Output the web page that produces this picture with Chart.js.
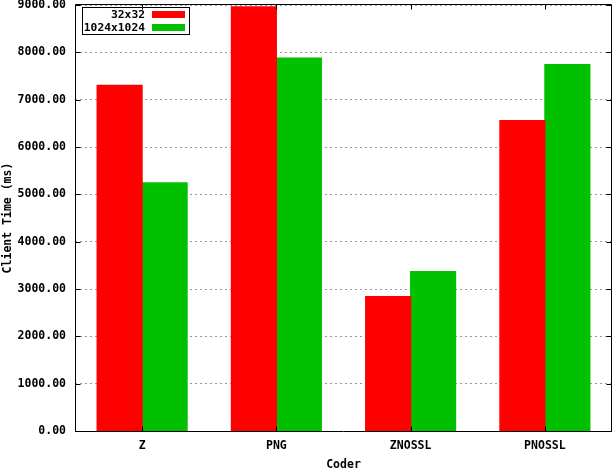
<!DOCTYPE html>
<html>
<head>
<meta charset="utf-8">
<script src="https://cdn.jsdelivr.net/npm/chart.js@4/dist/chart.umd.min.js"></script>
<style>
  html, body { margin: 0; padding: 0; background: #ffffff; }
  #wrap { width: 613px; height: 468px; position: relative; }
</style>
</head>
<body>
<div id="wrap"><canvas id="c"></canvas></div>
<script>
const categories = ["Z", "PNG", "ZNOSSL", "PNOSSL"];
const series32 = [7300, 8960, 2840, 6560];
const series1024 = [5240, 7880, 3370, 7740];
const seriesLabels = ["32x32", "1024x1024"];
const seriesColors = ["#ff0000", "#00c000"];
const yTicks = [0, 1000, 2000, 3000, 4000, 5000, 6000, 7000, 8000, 9000];
const xTitle = "Coder";
const yTitle = "Client Time (ms)";

const FONT = "'DejaVu Sans Mono', 'Liberation Mono', monospace";

const framePlugin = {
  id: 'frame',
  afterDatasetsDraw(chart) {
    const ctx = chart.ctx;
    const a = chart.chartArea;
    const L = Math.floor(a.left) + 0.5, R = Math.floor(a.right) - 0.5;
    const T = Math.floor(a.top) - 0.5, B = Math.floor(a.bottom) + 0.5;
    ctx.save();
    ctx.strokeStyle = '#000000';
    ctx.lineWidth = 1;
    ctx.setLineDash([]);
    ctx.beginPath();
    ctx.rect(L, T, R - L, B - T);
    ctx.stroke();
    const ys = chart.scales.y, xs = chart.scales.x;
    const tl = 5;
    ctx.beginPath();
    yTicks.forEach(v => {
      const y = Math.round(ys.getPixelForValue(v)) + 0.5;
      ctx.moveTo(L, y); ctx.lineTo(L + tl, y);
      ctx.moveTo(R, y); ctx.lineTo(R - tl, y);
    });
    categories.forEach((c, i) => {
      const x = Math.round(xs.getPixelForValue(i)) + 0.5;
      ctx.moveTo(x, T); ctx.lineTo(x, T + tl);
      ctx.moveTo(x, B); ctx.lineTo(x, B - tl);
    });
    ctx.stroke();
    ctx.restore();
  },
  afterDraw(chart) {
    const ctx = chart.ctx;
    ctx.save();
    ctx.strokeStyle = '#000000';
    ctx.lineWidth = 1;
    ctx.strokeRect(82.5, 7.5, 107, 27);
    ctx.font = "bold 11.3px " + FONT;
    ctx.fillStyle = '#000000';
    ctx.textAlign = 'right';
    ctx.textBaseline = 'middle';
    chart.data.datasets.forEach((ds, i) => {
      const cy = 14.5 + i * 13;
      ctx.fillText(ds.label, 145, cy + 0.5);
      ctx.fillStyle = ds.backgroundColor;
      ctx.fillRect(152, 11 + i * 13, 33, 7);
      ctx.fillStyle = '#000000';
    });
    ctx.restore();
  }
};

new Chart(document.getElementById('c'), {
  type: 'bar',
  data: {
    labels: categories,
    datasets: [
      { label: seriesLabels[0], data: series32, backgroundColor: seriesColors[0], borderWidth: 0, inflateAmount: 0.6 },
      { label: seriesLabels[1], data: series1024, backgroundColor: seriesColors[1], borderWidth: 0, inflateAmount: 0.6 }
    ]
  },
  options: {
    responsive: true,
    maintainAspectRatio: false,
    animation: false,
    devicePixelRatio: 1,
    layout: { padding: { top: 5, right: 1, left: 0, bottom: 0 } },
    datasets: { bar: { barPercentage: 1.0, categoryPercentage: 0.67 } },
    plugins: { legend: { display: false }, tooltip: { enabled: false } },
    scales: {
      x: {
        offset: true,
        grid: { display: false, drawTicks: false },
        border: { display: false },
        ticks: { color: '#000000', padding: 8, font: { family: FONT, size: 11.5, weight: 'bold' }, maxRotation: 0 },
        title: { display: true, text: xTitle, color: '#000000', padding: { top: 0, bottom: -3 }, font: { family: FONT, size: 11.5, weight: 'bold', lineHeight: 1 } },
        afterFit(s) { s.height = 37; s.paddingLeft = 0; s.paddingRight = 0; }
      },
      y: {
        min: 0, max: 9000,
        afterBuildTicks(s) { s.ticks = yTicks.map(v => ({ value: v })); },
        grid: { color: '#999999', lineWidth: 1, drawTicks: false },
        border: { display: false, dash: [2, 3] },
        ticks: {
          color: '#000000', padding: 9,
          font: { family: FONT, size: 11.5, weight: 'bold' },
          callback: v => Number(v).toFixed(2)
        },
        title: { display: true, text: yTitle, color: '#000000', padding: { top: 2.5, bottom: 0 }, font: { family: FONT, size: 11.5, weight: 'bold', lineHeight: 1 } },
        afterFit(s) { s.width = 75; s.paddingTop = 0; s.paddingBottom = 0; }
      }
    }
  },
  plugins: [framePlugin]
});
</script>
</body>
</html>
